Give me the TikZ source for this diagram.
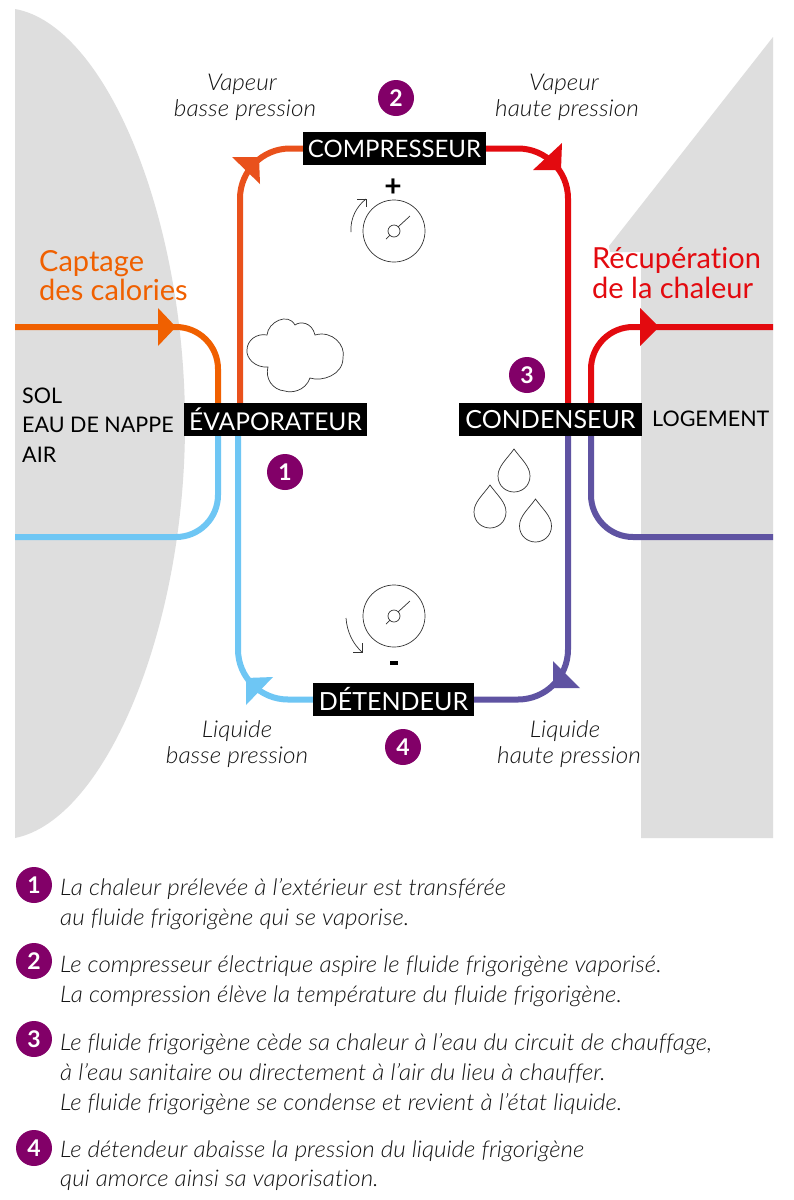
\documentclass[tikz,border=0pt]{standalone}
\usepackage{fontspec}
\setmainfont{Lato}[Ligatures=NoCommon]
\newfontfamily\litfont{Lato}[UprightFont=* Light Italic,Ligatures=NoCommon,FakeStretch=1.05]
\definecolor{grayzone}{HTML}{DEDEDE}
\definecolor{cRed}{HTML}{E30A0F}
\definecolor{cOrange}{HTML}{F06000}
\definecolor{cOrRed}{HTML}{E9511C}
\definecolor{cBlue}{HTML}{6EC6F4}
\definecolor{cPurple}{HTML}{5F53A2}
\definecolor{cPlum}{HTML}{820068}
\tikzset{
  zone/.style={fill=grayzone,draw=none},
  blackbox/.style={fill=black,text=white,inner sep=0pt,font=\fontsize{25}{25}\selectfont,anchor=center,minimum height=33pt},
  numdot/.style={circle,fill=cPlum,text=white,minimum size=36pt,inner sep=0pt,font=\bfseries\fontsize{23}{23}\selectfont},
  flow/.style={line width=6pt},
  ital/.style={inner sep=0pt,anchor=base,font=\litfont\fontsize{23.2}{24}\selectfont,text=black!92},
  legend/.style={inner sep=0pt,anchor=base west,font=\litfont\fontsize{23}{24}\selectfont,text=black!92},
  zonetxt/.style={inner sep=0pt,anchor=base west,font=\fontsize{21.5}{22}\selectfont},
  title/.style={inner sep=0pt,anchor=base west,font=\fontsize{29}{30}\selectfont},
  thin line/.style={line width=0.7pt,draw=black!80},
}
\begin{document}
\begin{tikzpicture}[x=1pt,y=-1pt]
\useasboundingbox (0,0) rectangle (793,1200);
\fill[white] (0,0) rectangle (793,1200);
% zones
\path[zone] (15,9) .. controls (105,25) and (185,215) .. (185,424) .. controls (185,630) and (105,820) .. (15,838) -- cycle;
\path[zone] (773,37) -- (609,246) -- (610,252) -- (641,252) -- (641,838) -- (773,838) -- cycle;
% boxes
\node[blackbox,minimum width=183pt,font=\fontsize{24}{25}\selectfont] (comp) at (394.5,148.5) {COMPRESSEUR};
\node[blackbox,minimum width=183pt,font=\fontsize{24.5}{25}\selectfont] (evap) at (275.5,419.5) {ÉVAPORATEUR};
\node[blackbox,minimum width=183pt] (cond) at (550.5,419.5) {CONDENSEUR};
\node[blackbox,minimum width=161pt] (dete) at (393.5,699.5) {DÉTENDEUR};
% free ends and rails
\coordinate (inL) at (15,327);
\coordinate (inB) at (15,537);
\coordinate (outR) at (773,327);
\coordinate (outP) at (773,537);
\coordinate (railOr) at (240,300);
\coordinate (railBl) at (238,300);
\coordinate (railRe) at (568,300);
\coordinate (extL) at (218,300);
\coordinate (extR) at (591,300);
% main loop
\draw[flow,cOrRed,rounded corners=50pt] (comp.west) -| (railOr |- evap.north);
\draw[flow,cRed,rounded corners=50pt] (comp.east) -| (railRe |- cond.north);
\draw[flow,cBlue,rounded corners=50pt] (dete.west) -| (railBl |- evap.south);
\draw[flow,cPurple,rounded corners=50pt] (dete.east) -| (railRe |- cond.south);
% outer circuits
\draw[flow,cOrange,rounded corners=42pt] (inL) -| (extL |- evap.north);
\draw[flow,cBlue,rounded corners=42pt] (inB) -| (extL |- evap.south);
\draw[flow,cRed,rounded corners=42pt] (outR) -| (extR |- cond.north);
\draw[flow,cPurple,rounded corners=42pt] (outP) -| (extR |- cond.south);
% arrow heads
\fill[cOrange] (158,308) -- (176,327) -- (158,346) -- cycle;
\fill[cRed] (640,308) -- (659,327) -- (640,346) -- cycle;
\fill[cOrRed] (232,157) -- (259,157) -- (260,184) -- cycle;
\fill[cRed] (562,143) -- (561,170) -- (533,170) -- cycle;
\fill[cPurple] (553,661) -- (580,688) -- (553,688) -- cycle;
\fill[cBlue] (273,677) -- (246,705) -- (246,678) -- cycle;
% number dots
\node[numdot] (n2) at (396,98) {2};
\node[numdot] (n1) at (285,472) {1};
\node[numdot] (n3) at (527,375) {3};
\node[numdot] (n4) at (403,747) {4};
\node[numdot] (l1) at (34,885) {1};
\node[numdot] (l2) at (34,961) {2};
\node[numdot] (l3) at (34,1039) {3};
\node[numdot] (l4) at (34,1148) {4};
% gauges
\draw[thin line] (394,231) circle (31);
\draw[thin line] (394,231) circle (6);
\draw[thin line] (398,227) -- (410,216) (390,235) -- (386,239);
\draw[thin line] (351,232) .. controls (350,218) and (357,206) .. (366,199);
\draw[thin line] (357,199) -- (366,199) -- (366,207);
\node[inner sep=0pt,font=\bfseries\fontsize{30}{30}\selectfont] (plus) at (393,188) {+};
\draw[thin line] (394,616) circle (31);
\draw[thin line] (394,616) circle (6);
\draw[thin line] (398,612) -- (410,601) (390,620) -- (386,624);
\draw[thin line] (346,618) .. controls (347,632) and (353,644) .. (362,652);
\draw[thin line] (353,652) -- (362,652) -- (362,643);
\fill[black] (389.5,661) rectangle (397.5,665);
% cloud
\draw[thin line,fill=white] (267,335)
  .. controls (268,322) and (288,312) .. (295,325)
  .. controls (300,321) and (312,322) .. (315,335)
  .. controls (332,330) and (346,345) .. (343,358)
  .. controls (343,375) and (322,382) .. (310,378)
  .. controls (305,392) and (290,393) .. (285,391)
  .. controls (272,390) and (265,378) .. (268,367)
  .. controls (255,368) and (246,358) .. (247,350)
  .. controls (247,340) and (257,333) .. (267,335) -- cycle;
% drops
\draw[thin line] (514,449) .. controls (521,459) and (530,466) .. (530,476) .. controls (530,486) and (522,492) .. (514,492) .. controls (506,492) and (498,486) .. (498,476) .. controls (498,466) and (507,459) .. (514,449) -- cycle;
\draw[thin line] (490,485) .. controls (497,495) and (506,502) .. (506,512) .. controls (506,522) and (498,528) .. (490,528) .. controls (482,528) and (474,522) .. (474,512) .. controls (474,502) and (483,495) .. (490,485) -- cycle;
\draw[thin line] (535.5,499) .. controls (542.5,509) and (551.5,516) .. (551.5,526) .. controls (551.5,536) and (543.5,542) .. (535.5,542) .. controls (527.5,542) and (519.5,536) .. (519.5,526) .. controls (519.5,516) and (528.5,509) .. (535.5,499) -- cycle;
% italic labels
\node[ital] (a1) at (242,90) {Vapeur};
\node[ital] (a2) at (245,116) {basse pression};
\node[ital] (b1) at (564,90) {Vapeur};
\node[ital] (b2) at (567,116) {haute pression};
\node[ital] (c1) at (237,737) {Liquide};
\node[ital] (c2) at (237,763) {basse pression};
\node[ital] (d1) at (565,737) {Liquide};
\node[ital] (d2) at (569,763) {haute pression};
% titles
\node[title,text=cOrange] (t1) at (39,271) {Captage};
\node[title,text=cOrange] (t2) at (39,300) {des calories};
\node[title,text=cRed] (t3) at (592,268) {Récupération};
\node[title,text=cRed] (t4) at (592,298) {de la chaleur};
% zone text
\node[zonetxt] (z1) at (22,403) {SOL};
\node[zonetxt] (z2) at (22,432) {EAU DE NAPPE};
\node[zonetxt] (z3) at (22,462) {AIR};
\node[zonetxt] (z4) at (652,426) {LOGEMENT};
% legend
\node[legend] (p1) at (60,895) {La chaleur prélevée à l’extérieur est transférée};
\node[legend] (p2) at (60,925) {au fluide frigorigène qui se vaporise.};
\node[legend] (p3) at (60,972) {Le compresseur électrique aspire le fluide frigorigène vaporisé.};
\node[legend] (p4) at (60,1002) {La compression élève la température du fluide frigorigène.};
\node[legend] (p5) at (60,1050) {Le fluide frigorigène cède sa chaleur à l’eau du circuit de chauffage,};
\node[legend] (p6) at (60,1080) {à l’eau sanitaire ou directement à l’air du lieu à chauffer.};
\node[legend] (p7) at (60,1110) {Le fluide frigorigène se condense et revient à l’état liquide.};
\node[legend] (p8) at (60,1157) {Le détendeur abaisse la pression du liquide frigorigène};
\node[legend] (p9) at (60,1186) {qui amorce ainsi sa vaporisation.};
\end{tikzpicture}
\end{document}
